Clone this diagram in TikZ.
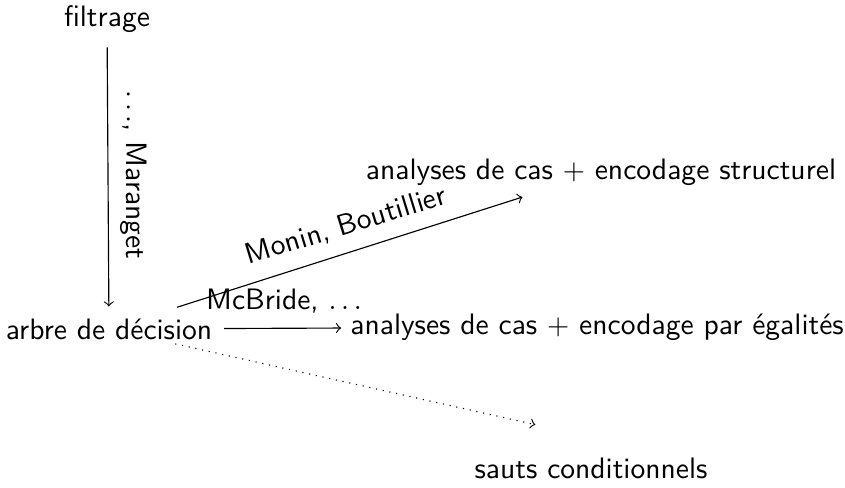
\documentclass[tikz,border=0pt]{standalone}
\usepackage{fontspec}
\usetikzlibrary{calc}
\begin{document}
\begin{tikzpicture}[x=0.35pt, y=-0.35pt,
  every node/.style={font=\sffamily\fontsize{10.35}{12.5}\selectfont, inner sep=3pt},
  edge/.style={->, line width=0.4pt},
  lbl/.style={inner sep=1pt}]
  \useasboundingbox (0,0) rectangle (845,488);

  % objects
  \node (filt)   at (107,19)  {filtrage};
  \node (arbre)  at (109,329) {arbre de décision};
  \node (struct) at (601,172) {analyses de cas $+$ encodage structurel};
  \node (egal)   at (597,327) {analyses de cas $+$ encodage par égalités};
  \node (sauts)  at (591,468) {sauts conditionnels};

  % arrows
  \draw[edge, shorten <=2pt, shorten >=1pt] (filt) -- (arbre);
  \draw[edge, shorten <=1pt, shorten >=0pt] (arbre) -- (egal);
  \draw[edge, shorten <=2.5pt, shorten >=3pt] (arbre) -- (struct);
  \draw[edge, dotted, shorten <=-7.5pt, shorten >=38pt]
    (arbre) -- ($(sauts.north)!0.4!(sauts.north east)$);

  % labels
  \node[lbl, rotate=-90] (lmar) at (134,175) {$\ldots$, Maranget};
  \node[lbl] (lmcb) at (284,301) {McBride, $\ldots$};
  \node[lbl, rotate=17] (lmon) at (346,226) {Monin, Boutillier};
\end{tikzpicture}
\end{document}
